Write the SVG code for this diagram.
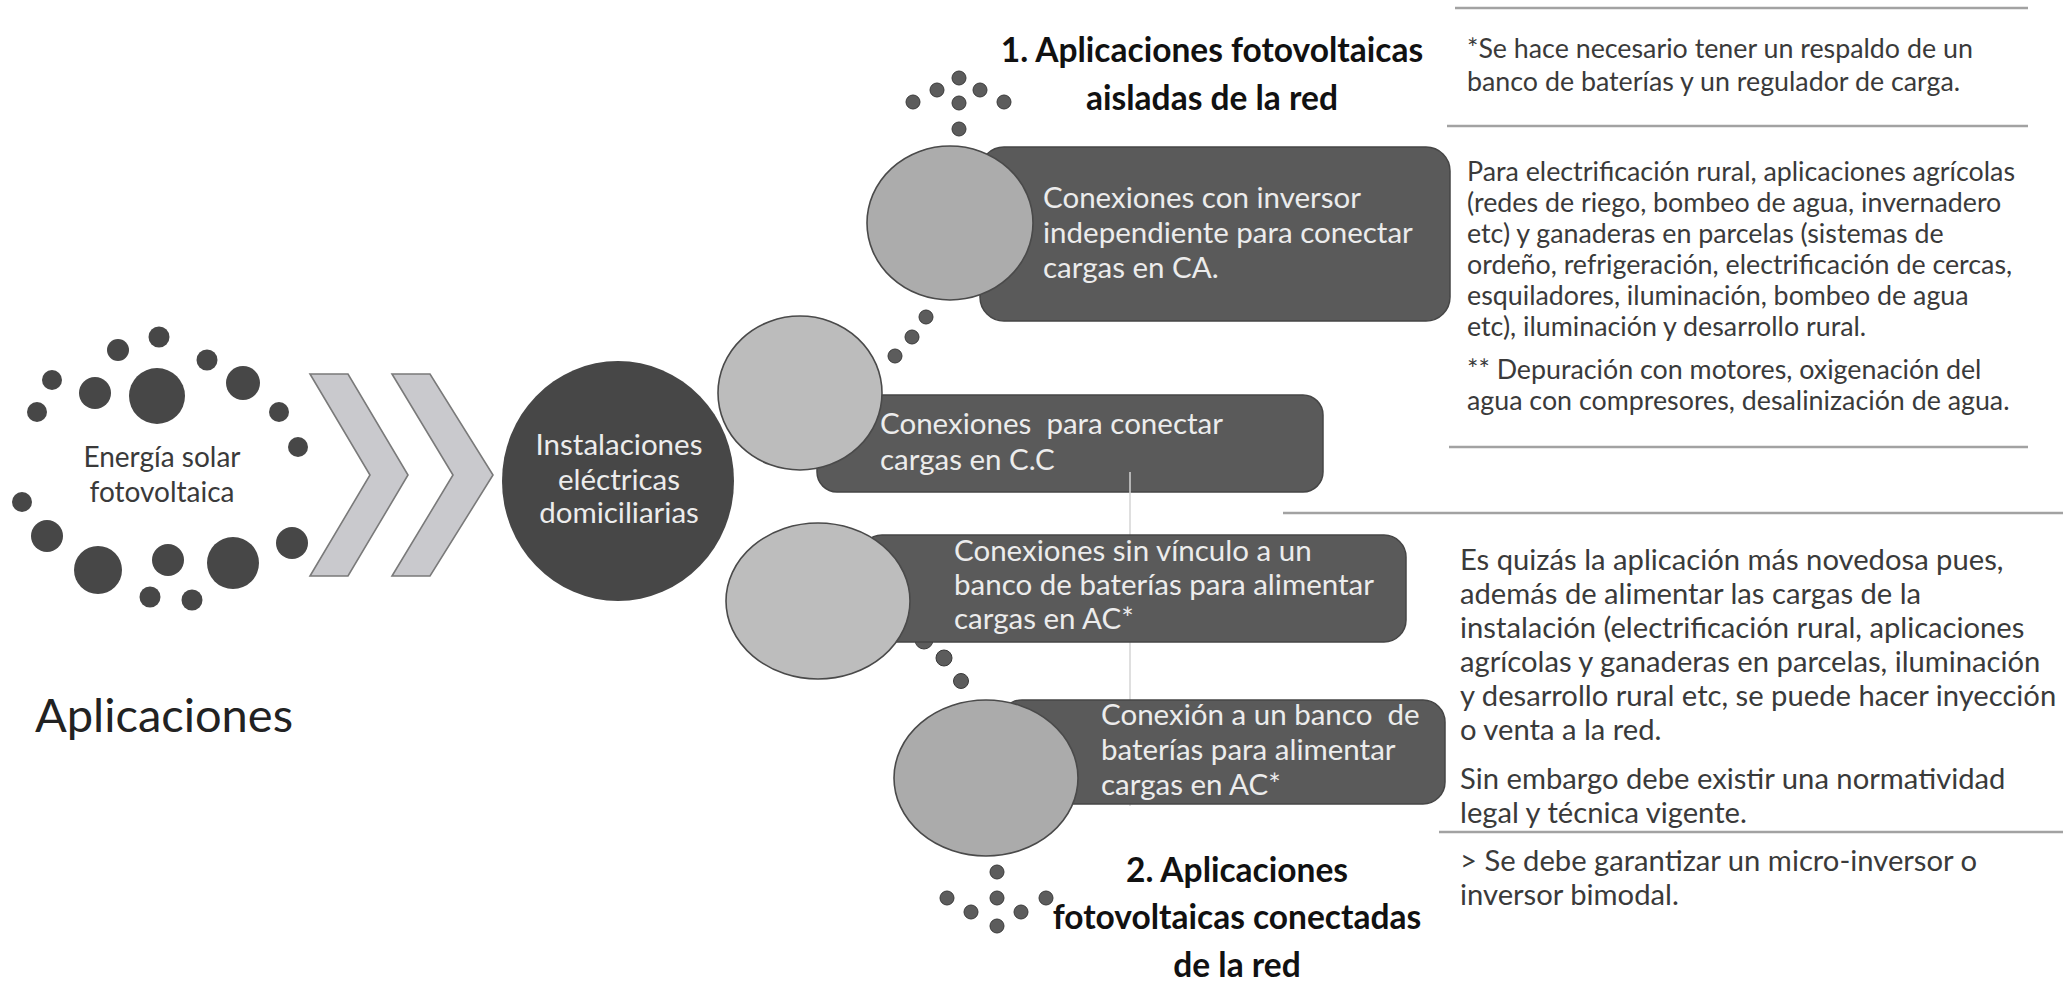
<svg xmlns="http://www.w3.org/2000/svg" width="2063" height="1003" viewBox="0 0 2063 1003">
  <style>
    .dot { fill: #474747; }
    .cdot { fill: #5c5c5c; stroke: #3a3a3a; stroke-width: 1; }
    .box { fill: #5a5a5a; stroke: #464646; stroke-width: 1.5; }
    .bub { stroke: #4a4a4a; stroke-width: 1.6; }
    .chev { fill: #c9c9cd; stroke: #7a7a7a; stroke-width: 1.6; stroke-linejoin: miter; }
    .sep { stroke: #a2a2a2; stroke-width: 2.5; }
    .wt { font-family: Lato, "Liberation Sans", sans-serif; font-size: 29.5px; fill: #ececec; }
    .hd { font-family: Lato, "Liberation Sans", sans-serif; font-weight: 700; font-size: 33.5px; fill: #111111; text-anchor: middle; }
    .nt { font-family: Lato, "Liberation Sans", sans-serif; font-size: 26.8px; fill: #3a3a3a; }
    .nt2 { font-family: Lato, "Liberation Sans", sans-serif; font-size: 29.2px; fill: #3a3a3a; }
    .lbl { font-family: Lato, "Liberation Sans", sans-serif; font-size: 28px; fill: #3a3a3a; text-anchor: middle; }
  </style>

  <rect width="2063" height="1003" fill="#ffffff"/>

  <!-- Source: ring of dots around the label -->
  <g id="energia-solar">
    <circle class="dot" cx="157" cy="396" r="28"/>
    <circle class="dot" cx="95" cy="393" r="16"/>
    <circle class="dot" cx="52" cy="380" r="10"/>
    <circle class="dot" cx="37" cy="412" r="10"/>
    <circle class="dot" cx="118" cy="350" r="11"/>
    <circle class="dot" cx="159" cy="337" r="10.5"/>
    <circle class="dot" cx="207" cy="360" r="10.5"/>
    <circle class="dot" cx="243" cy="383" r="17"/>
    <circle class="dot" cx="279" cy="412" r="10"/>
    <circle class="dot" cx="298" cy="447" r="10"/>
    <circle class="dot" cx="22" cy="502" r="10"/>
    <circle class="dot" cx="47" cy="536" r="16"/>
    <circle class="dot" cx="98" cy="570" r="24"/>
    <circle class="dot" cx="168" cy="560" r="16"/>
    <circle class="dot" cx="233" cy="563" r="26"/>
    <circle class="dot" cx="292" cy="543" r="16"/>
    <circle class="dot" cx="150" cy="597" r="10.5"/>
    <circle class="dot" cx="192" cy="600" r="10.5"/>
    <text class="lbl" x="162" y="467">Energía solar</text>
    <text class="lbl" x="162" y="502">fotovoltaica</text>
  </g>

  <g id="chevrons">
    <polygon class="chev" points="310,374 348,374 408,475 348,576 310,576 370,475"/>
    <polygon class="chev" points="392,374 430,374 493,475 430,576 392,576 453,475"/>
  </g>

  <g id="instalaciones">
    <ellipse cx="618" cy="481" rx="116" ry="120" fill="#474747"/>
    <text class="wt" x="619" y="455" text-anchor="middle" font-size="27">Instalaciones</text>
    <text class="wt" x="619" y="490" text-anchor="middle" font-size="27">eléctricas</text>
    <text class="wt" x="619" y="523" text-anchor="middle" font-size="27">domiciliarias</text>
  </g>

  <text id="titulo" x="35" y="732" font-family="Lato, 'Liberation Sans', sans-serif" font-size="47" fill="#222222">Aplicaciones</text>

  <!-- Dotted links between the bubbles -->
  <g id="connectors">
    <g id="cluster-aisladas">
      <circle class="cdot" cx="959" cy="78" r="7"/>
      <circle class="cdot" cx="937" cy="90" r="7"/>
      <circle class="cdot" cx="980" cy="90" r="7"/>
      <circle class="cdot" cx="913" cy="102" r="7"/>
      <circle class="cdot" cx="959" cy="103" r="7"/>
      <circle class="cdot" cx="1004" cy="102" r="7"/>
      <circle class="cdot" cx="959" cy="129" r="7"/>
    </g>
    <g id="link-ca-cc">
      <circle class="cdot" cx="926" cy="317" r="7"/>
      <circle class="cdot" cx="912" cy="337" r="7"/>
      <circle class="cdot" cx="895" cy="356" r="7"/>
    </g>
    <g id="link-ac1-ac2">
      <circle class="cdot" cx="924" cy="640" r="9"/>
      <circle class="cdot" cx="944" cy="658" r="8"/>
      <circle class="cdot" cx="961" cy="681" r="7.5"/>
    </g>
    <g id="cluster-conectadas">
      <circle class="cdot" cx="997" cy="872" r="7"/>
      <circle class="cdot" cx="947" cy="898" r="7"/>
      <circle class="cdot" cx="997" cy="898" r="7"/>
      <circle class="cdot" cx="1046" cy="898" r="7"/>
      <circle class="cdot" cx="971" cy="912" r="7"/>
      <circle class="cdot" cx="1021" cy="912" r="7"/>
      <circle class="cdot" cx="997" cy="926" r="7"/>
    </g>
  </g>

  <g id="nodo-ca">
    <rect class="box" x="980" y="147" width="470" height="174" rx="24"/>
    <ellipse class="bub" cx="950" cy="223" rx="83" ry="77" fill="#acacac"/>
    <text class="wt" x="1043" y="208">Conexiones con inversor</text>
    <text class="wt" x="1043" y="243">independiente para conectar</text>
    <text class="wt" x="1043" y="278">cargas en CA.</text>
  </g>

  <g id="nodo-cc">
    <rect class="box" x="817" y="395" width="506" height="97" rx="20"/>
    <ellipse class="bub" cx="800" cy="393" rx="82" ry="77" fill="#bcbcbc"/>
    <text class="wt" x="880" y="434">Conexiones&#160; para conectar</text>
    <text class="wt" x="880" y="470">cargas en C.C</text>
  </g>

  <!-- faint vertical guide crossing the lower boxes -->
  <line x1="1130" y1="472" x2="1130" y2="806" stroke="#d4d4d4" stroke-width="1.5"/>

  <g id="nodo-ac1">
    <rect class="box" x="860" y="535" width="546" height="107" rx="22"/>
    <ellipse class="bub" cx="818" cy="601" rx="92" ry="78" fill="#bdbdbd"/>
    <text class="wt" x="954" y="561">Conexiones sin vínculo a un</text>
    <text class="wt" x="954" y="595">banco de baterías para alimentar</text>
    <text class="wt" x="954" y="629">cargas en AC*</text>
  </g>

  <g id="nodo-ac2">
    <rect class="box" x="1000" y="700" width="445" height="104" rx="22"/>
    <ellipse class="bub" cx="986" cy="778" rx="92" ry="78" fill="#ababab"/>
    <text class="wt" x="1101" y="725">Conexión a un banco&#160; de</text>
    <text class="wt" x="1101" y="760">baterías para alimentar</text>
    <text class="wt" x="1101" y="795">cargas en AC*</text>
  </g>

  <g id="encabezado-aisladas">
    <text class="hd" x="1212" y="62">1. Aplicaciones fotovoltaicas</text>
    <text class="hd" x="1212" y="110">aisladas de la red</text>
  </g>

  <g id="encabezado-conectadas">
    <text class="hd" x="1237" y="882">2. Aplicaciones</text>
    <text class="hd" x="1237" y="929">fotovoltaicas conectadas</text>
    <text class="hd" x="1237" y="977">de la red</text>
  </g>

  <!-- Notes column -->
  <g id="notas">
    <line class="sep" x1="1455" y1="8" x2="2028" y2="8"/>
    <line class="sep" x1="1447" y1="126" x2="2028" y2="126"/>
    <line class="sep" x1="1449" y1="447" x2="2028" y2="447"/>
    <line class="sep" x1="1283" y1="513" x2="2063" y2="513"/>
    <line class="sep" x1="1439" y1="832" x2="2063" y2="832"/>

    <text class="nt" x="1467" y="58">*Se hace necesario tener un respaldo de un</text>
    <text class="nt" x="1467" y="91">banco de baterías y un regulador de carga.</text>

    <text class="nt" x="1467" y="181">Para electrificación rural, aplicaciones agrícolas</text>
    <text class="nt" x="1467" y="212">(redes de riego, bombeo de agua, invernadero</text>
    <text class="nt" x="1467" y="243">etc) y ganaderas en parcelas (sistemas de</text>
    <text class="nt" x="1467" y="274">ordeño, refrigeración, electrificación de cercas,</text>
    <text class="nt" x="1467" y="305">esquiladores, iluminación, bombeo de agua</text>
    <text class="nt" x="1467" y="336">etc), iluminación y desarrollo rural.</text>
    <text class="nt" x="1467" y="379">** Depuración con motores, oxigenación del</text>
    <text class="nt" x="1467" y="410">agua con compresores, desalinización de agua.</text>

    <text class="nt2" x="1460" y="570">Es quizás la aplicación más novedosa pues,</text>
    <text class="nt2" x="1460" y="604">además de alimentar las cargas de la</text>
    <text class="nt2" x="1460" y="638">instalación (electrificación rural, aplicaciones</text>
    <text class="nt2" x="1460" y="672">agrícolas y ganaderas en parcelas, iluminación</text>
    <text class="nt2" x="1460" y="706">y desarrollo rural etc, se puede hacer inyección</text>
    <text class="nt2" x="1460" y="740">o venta a la red.</text>
    <text class="nt2" x="1460" y="789">Sin embargo debe existir una normatividad</text>
    <text class="nt2" x="1460" y="823">legal y técnica vigente.</text>
    <text class="nt2" x="1460" y="871">&gt; Se debe garantizar un micro-inversor o</text>
    <text class="nt2" x="1460" y="905">inversor bimodal.</text>
  </g>
</svg>
